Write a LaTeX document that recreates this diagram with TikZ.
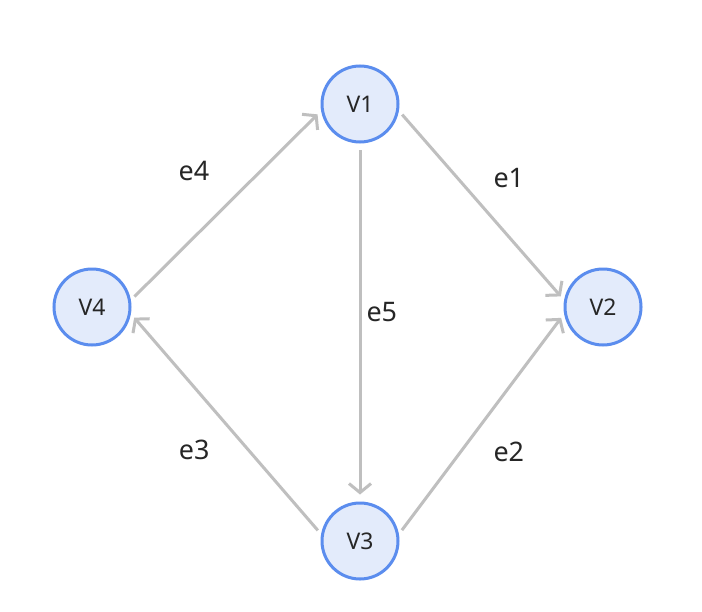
\documentclass[tikz,border=0pt]{standalone}
\usepackage{fontspec}
\setmainfont{Noto Sans}
\usepackage{xcolor}
\usetikzlibrary{arrows.meta,positioning}
\definecolor{nodefill}{HTML}{E3EBFB}
\definecolor{nodeline}{HTML}{5B8DEE}
\definecolor{edgegray}{HTML}{BFBFBF}
\definecolor{textdark}{HTML}{262626}

\begin{document}
\begin{tikzpicture}[x=1bp,y=-1bp,->,>={Straight Barb[length=9bp,width=22bp]},
                    shorten >=5bp,shorten <=5bp,auto,on grid,line width=3bp,
                    main node/.style={circle,draw=nodeline,fill=nodefill,minimum size=76bp,
                      inner sep=0pt,font=\fontsize{23}{23}\selectfont,text=textdark},
                    edgeline/.style={draw=edgegray}]

  \fill[white] (0,0) rectangle (702,612);
  \useasboundingbox (0,0) rectangle (702,612);

  \node[main node] (V1) at (360,104) {V1};
  \node[main node] (V4) [below left=203bp and 268bp of V1] {V4};
  \node[main node] (V2) [below right=203bp and 243bp of V1] {V2};
  \node[main node] (V3) [below=437bp of V1] {V3};

  \path[every node/.style={font=\fontsize{27}{27}\selectfont,text=textdark,inner sep=15bp}]
    (V1.-10) edge [edgeline] node [pos=0.485,inner sep=13bp] {e1} (V2.170)
    (V3.10)  edge [edgeline] node [swap,pos=0.485,inner sep=13bp] {e2} (V2.190)
    (V3.170) edge [edgeline] node {e3} (V4.-10)
    (V4.10)  edge [edgeline] node [pos=0.52,inner sep=19bp] {e4} (V1.190)
    (V1.south) edge [edgeline,shorten <=7bp,shorten >=7bp] node [pos=0.47,inner sep=5bp] {e5} (V3.north);
\end{tikzpicture}
\end{document}
